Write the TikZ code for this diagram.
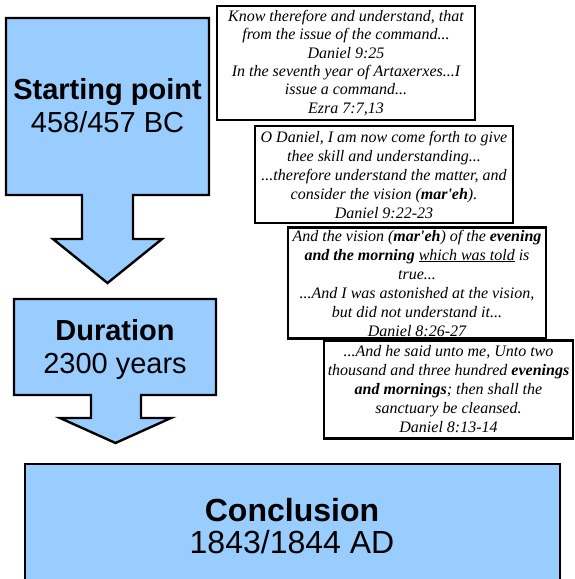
\documentclass[tikz,border=0pt]{standalone}
\usepackage{fontspec}
\setmainfont{Liberation Serif}
\setsansfont{Liberation Sans}
\usepackage{tikz}
\usepackage{xcolor}
\definecolor{calloutblue}{RGB}{153,204,255}

\begin{document}
\begin{tikzpicture}[x=1pt,y=-1pt]
\tikzstyle{every node}+=[inner sep=0pt]
\tikzstyle{callout}=[draw=black, fill=calloutblue, line width=2.4pt, line join=miter]
\tikzstyle{bigtext}=[align=center, font=\sffamily\fontsize{29}{33}\selectfont]
\tikzstyle{verse}=[draw=black, fill=white, line width=2.8pt, align=center, font=\itshape\fontsize{16}{19}\selectfont]
\useasboundingbox (0,0) rectangle (575,579);
% callouts
\draw [callout] (6,18) -- (209,18) -- (209,195) -- (133,195) -- (133,239) -- (162,239) -- (107.5,283) -- (53,239) -- (82,239) -- (82,195) -- (6,195) -- cycle;
\draw [callout] (14,299) -- (216,299) -- (216,395) -- (141,395) -- (141,418) -- (171,418) -- (115.5,443) -- (60,418) -- (91,418) -- (91,395) -- (14,395) -- cycle;
\draw [callout] (25,464) rectangle (560,595);
\node [bigtext] (start) at (107.5,106) {\textbf{Starting point}\\458/457 BC};
\node [bigtext] (duration) at (115,349) {\textbf{Duration}\\2300 years};
\node [bigtext, font=\sffamily\fontsize{32}{31.5}\selectfont] (conclusion) at (292,526) {\textbf{Conclusion}\\1843/1844 AD};
% verses
\node [verse, minimum width=258, minimum height=114, font=\itshape\fontsize{16}{18.3}\selectfont] (dan925) at (346,63)
  {Know therefore and understand, that\\from the issue of the command...\\Daniel 9:25\\In the seventh year of Artaxerxes...I\\issue a command...\\Ezra 7:7,13};
\node [verse, minimum width=258, minimum height=97] (dan922) at (384,174.5)
  {O Daniel, I am now come forth to give\\thee skill and understanding...\\...therefore understand the matter, and\\consider the vision (\textbf{mar\textquotesingle eh}).\\Daniel 9:22-23};
\node [verse, minimum width=258, minimum height=111] (dan826) at (417,283)
  {And the vision (\textbf{mar\textquotesingle eh}) of the \textbf{evening}\\\textbf{and the morning} \underline{which was told} is\\true...\\...And I was astonished at the vision,\\but did not understand it...\\Daniel 8:26-27};
\node [verse, minimum width=249, minimum height=98] (dan813) at (448.5,389.5)
  {...And he said unto me, Unto two\\thousand and three hundred \textbf{evenings}\\\textbf{and mornings}; then shall the\\sanctuary be cleansed.\\Daniel 8:13-14};
\end{tikzpicture}
\end{document}
